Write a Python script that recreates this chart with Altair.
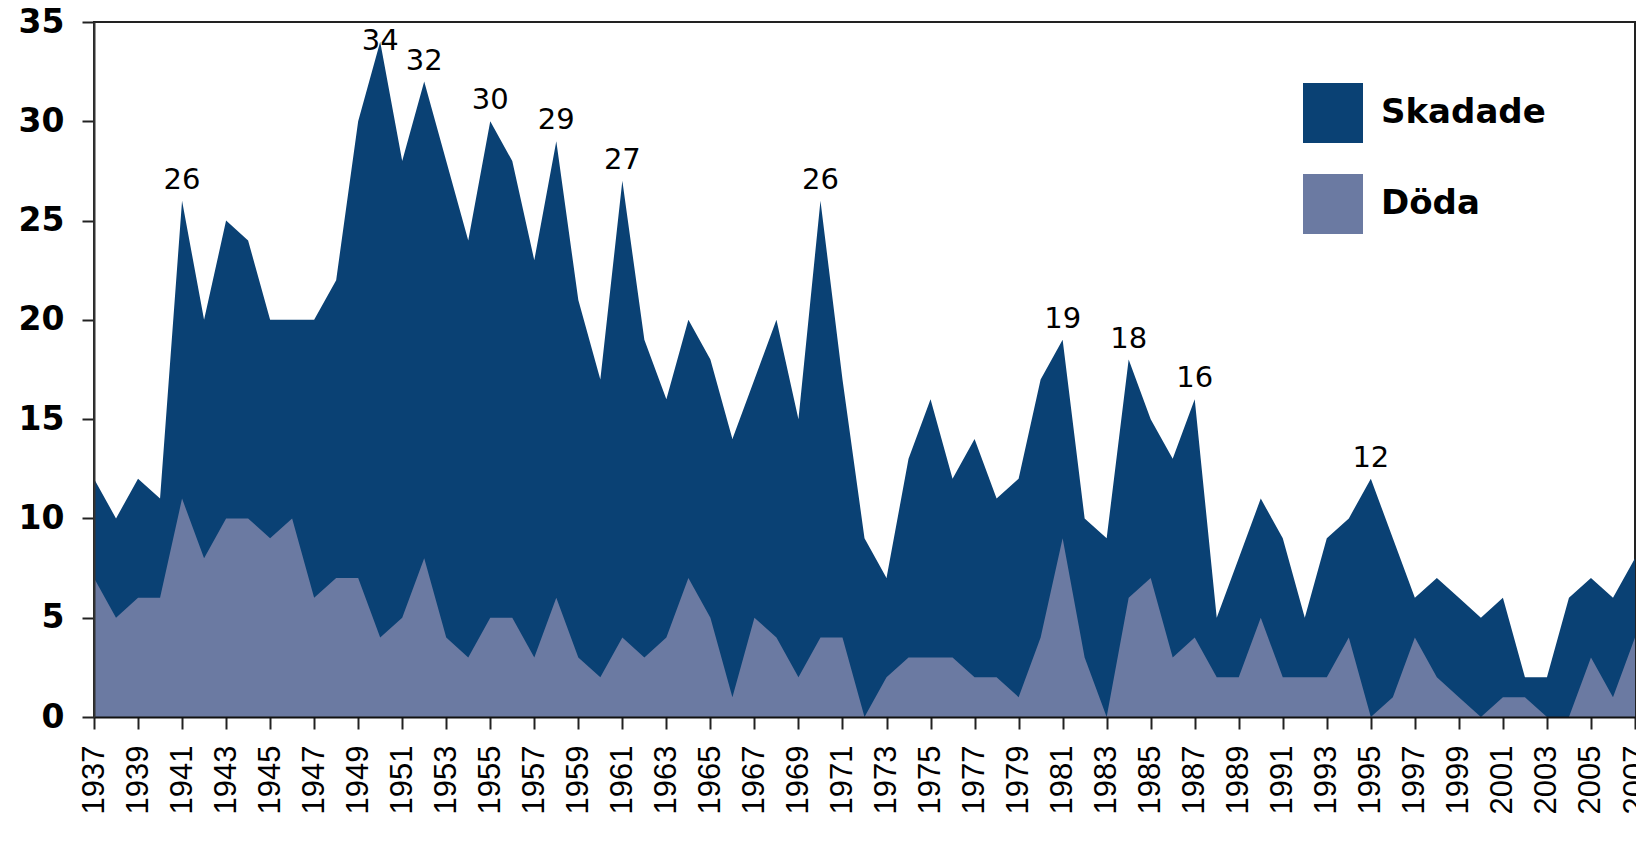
import altair as alt
import pandas as pd

years = list(range(1937, 2008))
skadade = [12, 10, 12, 11, 26, 20, 25, 24, 20, 20,
           20, 22, 30, 34, 28, 32, 28, 24, 30, 28,
           23, 29, 21, 17, 27, 19, 16, 20, 18, 14,
           17, 20, 15, 26, 17, 9, 7, 13, 16, 12,
           14, 11, 12, 17, 19, 10, 9, 18, 15, 13,
           16, 5, 8, 11, 9, 5, 9, 10, 12, 9,
           6, 7, 6, 5, 6, 2, 2, 6, 7, 6,
           8]
doda = [7, 5, 6, 6, 11, 8, 10, 10, 9, 10,
        6, 7, 7, 4, 5, 8, 4, 3, 5, 5,
        3, 6, 3, 2, 4, 3, 4, 7, 5, 1,
        5, 4, 2, 4, 4, 0, 2, 3, 3, 3,
        2, 2, 1, 4, 9, 3, 0, 6, 7, 3,
        4, 2, 2, 5, 2, 2, 2, 4, 0, 1,
        4, 2, 1, 0, 1, 1, 0, 0, 3, 1,
        4]
series = ["Skadade", "Döda"]
colors = ["#0a4174", "#6b7aa2"]

label_years = [1941, 1950, 1952, 1955, 1958, 1961, 1970, 1981, 1984, 1987, 1995]
label_values = [26, 34, 32, 30, 29, 27, 26, 19, 18, 16, 12]

y_ticks = [0, 5, 10, 15, 20, 25, 30, 35]

df_s = pd.DataFrame({"year": years, "value": skadade, "serie": series[0]})
df_d = pd.DataFrame({"year": years, "value": doda, "serie": series[1]})
df_lab = pd.DataFrame({"year": label_years, "value": label_values})

x_scale = alt.Scale(domain=[years[0], years[-1]], nice=False, zero=False)
y_scale = alt.Scale(domain=[0, 35], nice=False)

x_axis = alt.Axis(
    values=years, format="d",
    labelExpr="datum.value % 2 == 1 ? datum.label : ''",
    labelAngle=270, labelFont="Liberation Sans", labelFontSize=31,
    labelColor="black", labelPadding=16, labelOverlap=False, labelFlush=False,
    tickSize=12, tickWidth=2, tickColor="#222",
    domainColor="#111", domainWidth=2, grid=False, title=None, zindex=1,
)
y_axis = alt.Axis(
    values=y_ticks, labelFont="DejaVu Sans", labelFontWeight="bold",
    labelFontSize=33, labelColor="black", labelPadding=18,
    tickSize=12, tickWidth=2, tickColor="#222",
    domainColor="#333", domainWidth=2, grid=False, title=None, zindex=1,
)

color = alt.Color(
    "serie:N",
    scale=alt.Scale(domain=series, range=colors),
    legend=alt.Legend(
        orient="none", legendX=1209, legendY=61, title=None,
        symbolType="square", symbolSize=3600, symbolStrokeWidth=0, symbolOpacity=1,
        labelFont="DejaVu Sans", labelFontSize=34, labelFontWeight="bold",
        labelColor="black", labelOffset=18, rowPadding=31, padding=0,
        labelLimit=400,
    ),
)

dark = alt.Chart(df_s).mark_area(opacity=1, interpolate="linear").encode(
    x=alt.X("year:Q", scale=x_scale, axis=x_axis),
    y=alt.Y("value:Q", scale=y_scale, axis=y_axis),
    color=color,
)
light = alt.Chart(df_d).mark_area(opacity=1, interpolate="linear").encode(
    x=alt.X("year:Q", scale=x_scale, axis=x_axis),
    y=alt.Y("value:Q", scale=y_scale, axis=y_axis),
    color=color,
)
labels = alt.Chart(df_lab).transform_calculate(
    ly="min(datum.value, 33)"
).mark_text(font="DejaVu Sans", fontSize=29, baseline="alphabetic", dy=-12,
            color="black").encode(
    x=alt.X("year:Q", scale=x_scale),
    y=alt.Y("ly:Q", scale=y_scale),
    text=alt.Text("value:Q"),
)

chart = alt.layer(dark, light, labels).properties(
    width=1541, height=695,
    autosize=alt.AutoSizeParams(type="none"),
    padding={"left": 86, "top": 14, "right": 1, "bottom": 110},
).configure_view(stroke="#222", strokeWidth=2)

chart.save("out.html", embed_options={"renderer": "svg", "actions": False})
